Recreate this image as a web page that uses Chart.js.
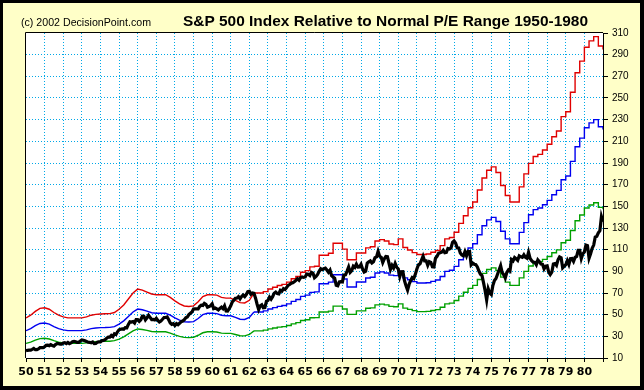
<!DOCTYPE html>
<html>
<head>
<meta charset="utf-8">
<script src="https://cdn.jsdelivr.net/npm/chart.js@4.4.1/dist/chart.umd.min.js"></script>
<style>
  html, body { margin: 0; padding: 0; background: #FFFFC8; }
  #wrap { position: relative; width: 644px; height: 390px; }
  canvas { display: block; }
</style>
</head>
<body>
<div id="wrap"><canvas id="c" width="644" height="390"></canvas></div>
<script>
// ---------- text ----------
const chartTitle = 'S&P 500 Index Relative to Normal P/E Range 1950-1980';
const creditText = '(c) 2002 DecisionPoint.com';

// ---------- tick labels ----------
const xTickLabels = ['50','51','52','53','54','55','56','57','58','59','60','61','62','63','64','65',
  '66','67','68','69','70','71','72','73','74','75','76','77','78','79','80',''];
const xTickYears = [1950,1951,1952,1953,1954,1955,1956,1957,1958,1959,1960,1961,1962,1963,1964,1965,
  1966,1967,1968,1969,1970,1971,1972,1973,1974,1975,1976,1977,1978,1979,1980,1981];
const yTickValues = [10,30,50,70,90,110,130,150,170,190,210,230,250,270,290,310];

// ---------- S&P 500 (month-end closes, first value = end of Dec 1949) ----------
const spxFirstYear = 1950;
const spx = [16.8,
 17.1,17.2,17.3,18.0,18.8,17.7,17.8,18.4,19.5,19.5,19.5,20.4,
 21.7,21.8,21.4,22.4,21.5,21.0,22.4,23.3,23.3,22.9,22.9,23.8,
 24.1,23.3,24.4,23.3,23.9,25.0,25.4,25.0,24.5,24.5,25.7,26.6,
 26.4,25.9,25.3,24.6,24.5,24.1,24.8,23.3,23.4,24.5,24.8,24.8,
 26.1,26.2,26.9,28.3,29.2,29.2,30.9,29.8,32.3,31.7,34.2,36.0,
 36.6,36.8,36.6,38.0,37.9,41.0,43.5,43.2,43.7,42.3,45.5,45.5,
 43.8,45.3,48.5,48.4,45.2,47.0,49.4,47.5,45.4,45.6,45.1,46.7,
 44.7,43.3,44.1,45.7,47.4,47.4,47.9,45.2,42.4,41.1,41.7,40.0,
 41.7,40.8,42.1,43.4,44.1,45.2,47.2,47.8,50.1,51.3,52.5,55.2,
 55.4,55.4,55.4,57.6,58.7,58.5,60.5,59.6,56.9,57.5,58.3,59.9,
 55.6,56.1,55.3,54.4,55.8,56.9,55.5,58.1,53.5,53.4,55.5,58.1,
 61.8,63.4,65.1,65.3,66.6,64.6,66.8,68.1,66.7,68.6,71.3,71.6,
 68.8,70.0,69.6,65.2,59.6,54.8,58.2,59.1,56.3,56.5,62.3,63.1,
 66.2,64.3,66.6,69.8,70.8,69.4,69.1,72.5,71.7,74.0,73.2,75.0,
 77.0,77.8,79.0,79.5,80.4,81.7,83.2,81.8,84.2,84.9,84.4,84.8,
 87.6,87.4,86.2,89.1,88.4,84.1,85.3,87.2,90.0,92.4,91.6,92.4,
 92.9,91.2,89.2,91.1,86.1,84.7,83.6,77.1,76.6,80.2,80.5,80.3,
 86.6,86.8,90.2,94.0,89.1,90.6,94.8,93.6,96.7,93.9,94.0,96.5,
 92.2,89.4,90.2,97.6,98.7,99.6,97.7,98.9,102.7,103.4,108.4,103.9,
 103.0,98.1,101.5,103.7,103.5,97.7,91.8,95.5,93.1,97.2,93.8,92.1,
 85.0,89.5,89.6,81.5,76.6,72.7,78.1,81.5,84.2,83.3,87.2,92.2,
 95.9,96.8,100.3,104.0,99.6,99.7,95.6,99.0,98.3,94.2,94.0,102.1,
 103.9,106.6,107.2,107.7,109.5,107.1,107.4,111.1,110.6,111.6,116.7,118.1,
 116.0,111.7,111.5,107.0,105.0,104.3,108.2,104.3,108.4,108.3,96.0,97.6,
 96.6,96.2,94.0,90.3,87.3,86.0,79.3,72.2,63.5,73.9,70.0,68.6,
 77.0,81.6,83.4,87.3,91.2,95.2,88.8,86.9,83.9,89.0,91.2,90.2,
 100.9,99.7,102.8,101.6,100.2,104.3,103.4,102.9,105.2,102.9,102.1,107.5,
 102.0,99.8,98.4,98.4,96.1,100.5,98.9,96.8,96.5,92.3,94.8,95.1,
 89.3,87.0,89.2,96.8,97.2,95.5,100.7,103.3,102.5,93.2,94.7,96.1,
 99.9,96.3,101.6,101.8,99.1,102.9,103.8,109.3,109.3,101.8,106.2,107.9,
 114.2,113.7,102.1,106.3,111.2,114.2,121.7,122.4,125.5,127.5,140.5,135.8];

// ---------- P/E bands, quarterly: 1950.00 - 1962.25 (smooth part) ----------
const earlyYears = [1950,1950.25,1950.5,1950.75,1951,1951.25,1951.5,1951.75,1952,1952.25,1952.5,1952.75,
  1953,1953.25,1953.5,1953.75,1954,1954.25,1954.5,1954.75,1955,1955.25,1955.5,1955.75,
  1956,1956.25,1956.5,1956.75,1957,1957.25,1957.5,1957.75,1958,1958.25,1958.5,1958.75,
  1959,1959.25,1959.5,1959.75,1960,1960.25,1960.5,1960.75,1961,1961.25,1961.5,1961.75,1962,1962.25];
const redEarly = [46.9,49.5,53,55.8, 56.4,55,52,49.5, 48,47,47,47, 47,48,49.5,50.3, 50.6,50.8,51,52,
  55,59,64.5,70, 73.6,72.7,70.9,69.1, 68.4,68.4,68.4,66, 62.7,60,58,57.6, 58.1,62,66.7,68.4,
  68.4,68,66,65.3, 65.3,63.3,61.1,60.8, 63.3,70];
const blueEarly = [35.2,37.1,39.8,41.9, 42.3,41.3,39,37.1, 36,35.3,35.3,35.3, 35.3,36,37.1,37.7, 38,38.1,38.3,39,
  41.3,44.3,48.4,52.5, 55.2,54.5,53.2,51.8, 51.3,51.3,51.3,49.5, 47,45,43.5,43.2, 43.6,46.5,50,51.3,
  51.3,51,49.5,49, 49,47.5,45.8,45.6, 47.5,52.5];
const greenEarly = [23.5,24.7,26.5,27.9, 28.2,27.5,26,24.7, 24,23.5,23.5,23.5, 23.5,24,24.7,25.1, 25.3,25.4,25.5,26,
  27.5,29.5,32.3,35, 36.8,36.3,35.5,34.5, 34.2,34.2,34.2,33, 31.3,30,29,28.8, 29.1,31,33.3,34.2,
  34.2,34,33,32.7, 32.7,31.7,30.5,30.4, 31.7,35];

// ---------- P/E bands, quarterly steps: 1962.25 - 1981.00 ----------
const lateYears = [1962.25,1962.5,1962.75,1963,1963.25,1963.5,1963.75,1964,1964.25,1964.5,1964.75,
  1965,1965.25,1965.5,1965.75,1966,1966.25,1966.5,1966.75,1967,1967.25,1967.5,1967.75,
  1968,1968.25,1968.5,1968.75,1969,1969.25,1969.5,1969.75,1970,1970.25,1970.5,1970.75,
  1971,1971.25,1971.5,1971.75,1972,1972.25,1972.5,1972.75,1973,1973.25,1973.5,1973.75,
  1974,1974.25,1974.5,1974.75,1975,1975.25,1975.5,1975.75,1976,1976.25,1976.5,1976.75,
  1977,1977.25,1977.5,1977.75,1978,1978.25,1978.5,1978.75,1979,1979.25,1979.5,1979.75,
  1980,1980.25,1980.5,1980.75,1981];
const redLate = [70,70,71.3, 73.7,75.3,76.9,78, 80,83.1,85.3,89.2, 90.7,94.1,94.7,104.8,
  104.8,106.7,115.9,115.9, 110.5,100.7,100.7,106.9, 106.9,111.7,112.7,118, 119.3,118,115.3,114.7,
  120,112,109.7,107.3, 105.6,105.6,106,107.6, 109.3,113.7,120,121.3, 126.1,134.3,141.3,148.7,
  154,165.1,176.1,183.3, 186.4,181.3,169.3,160, 154,154,168,180, 189.7,196,198,202,
  207.3,214.3,219.6,232.8, 237.3,255.3,273.3,284, 296.8,302.7,306.7,298, 294.7];
const blueLate = [52.5,52.5,53.5, 55.3,56.5,57.7,58.5, 60,62.3,64,66.9, 68,70.6,71,78.6,
  78.6,80,86.9,86.9, 82.9,75.5,75.5,80.2, 80.2,83.8,84.5,88.5, 89.5,88.5,86.5,86,
  90,84,82.3,80.5, 79.2,79.2,79.5,80.7, 82,85.3,90,91, 94.6,100.7,106,111.5,
  115.5,123.8,132.1,137.5, 139.8,136,127,120, 115.5,115.5,126,135, 142.3,147,148.5,151.5,
  155.5,160.7,164.7,174.6, 178,191.5,205,213, 222.6,227,230,223.5, 221];
const greenLate = [35,35,35.7, 36.9,37.7,38.5,39, 40,41.5,42.7,44.6, 45.3,47.1,47.3,52.4,
  52.4,53.3,57.9,57.9, 55.3,50.3,50.3,53.5, 53.5,55.9,56.3,59, 59.7,59,57.7,57.3,
  60,56,54.9,53.7, 52.8,52.8,53,53.8, 54.7,56.9,60,60.7, 63.1,67.1,70.7,74.3,
  77,82.5,88.1,91.7, 93.2,90.7,84.7,80, 77,77,84,90, 94.9,98,99,101,
  103.7,107.1,109.8,116.4, 118.7,127.7,136.7,142, 148.4,151.3,153.3,149, 147.3];

// ---------- styling ----------
const RED = '#E00000', BLUE = '#0000F0', GREEN = '#00A000', BLACK = '#000000';
const GRID = '#00A8E8';
const PAGE_BG = '#FFFFC8';

const pts = (xs, ys) => ys.map((v, i) => ({ x: xs[i], y: v }));
const spxPoints = spx.map((v, i) => ({ x: spxFirstYear + i / 12, y: v }));

function band(label, xs, ys, color, stepped) {
  return { label, data: pts(xs, ys), borderColor: color, backgroundColor: color,
    borderWidth: 1.4, pointRadius: 0, tension: 0, stepped: stepped, fill: false };
}

function fitText(ctx, text, font, x, y, width) {
  ctx.save();
  ctx.font = font;
  ctx.fillStyle = '#000';
  ctx.textBaseline = 'alphabetic';
  const w = ctx.measureText(text).width;
  ctx.translate(x, y);
  ctx.scale(width / w, 1);
  ctx.fillText(text, 0, 0);
  ctx.restore();
}

const framePlugin = {
  id: 'frame',
  beforeDraw(chart) {
    const { ctx, chartArea: a, width, height } = chart;
    ctx.save();
    ctx.fillStyle = PAGE_BG;
    ctx.fillRect(0, 0, width, height);
    ctx.fillStyle = '#000';
    ctx.fillRect(0, 0, width, 3);
    ctx.fillRect(0, 0, 3, height);
    ctx.fillRect(width - 4, 0, 4, height);
    ctx.fillRect(0, height - 4, width, 4);
    ctx.fillStyle = '#FFFFFF';
    ctx.fillRect(a.left, a.top, a.right - a.left, a.bottom - a.top);
    ctx.restore();
  },
  beforeDatasetsDraw(chart) {
    const { ctx, chartArea: a } = chart;
    ctx.save();
    ctx.strokeStyle = '#000';
    ctx.lineWidth = 1;
    ctx.beginPath();
    ctx.moveTo(a.left - 0.5, a.bottom);
    ctx.lineTo(a.left - 0.5, a.top - 0.5);
    ctx.lineTo(a.right, a.top - 0.5);
    ctx.stroke();
    ctx.restore();
  },
  afterDraw(chart) {
    const { ctx } = chart;
    fitText(ctx, chartTitle, 'bold 15px "Liberation Sans", Arial, sans-serif', 183, 26, 405);
    fitText(ctx, creditText, '11px "Liberation Sans", Arial, sans-serif', 21, 26, 130);
  }
};

new Chart(document.getElementById('c'), {
  type: 'line',
  data: {
    datasets: [
      { label: 'S&P 500', data: spxPoints, borderColor: BLACK, backgroundColor: BLACK,
        borderWidth: 3.2, pointRadius: 0, tension: 0, fill: false },
      band('High P/E', earlyYears, redEarly, RED, false),
      band('High P/E', lateYears, redLate, RED, true),
      band('Normal P/E', earlyYears, blueEarly, BLUE, false),
      band('Normal P/E', lateYears, blueLate, BLUE, true),
      band('Low P/E', earlyYears, greenEarly, GREEN, false),
      band('Low P/E', lateYears, greenLate, GREEN, true)
    ]
  },
  options: {
    responsive: false,
    animation: false,
    devicePixelRatio: 1,
    layout: { padding: { left: 26, top: 33, right: 0, bottom: 0 } },
    plugins: { legend: { display: false }, tooltip: { enabled: false }, title: { display: false } },
    scales: {
      x: {
        type: 'linear', min: 1950, max: 1981,
        afterBuildTicks: (s) => { s.ticks = xTickYears.map(v => ({ value: v })); },
        afterFit: (s) => { s.height = 32; },
        ticks: {
          autoSkip: false, maxRotation: 0, minRotation: 0, padding: 4, color: '#000',
          font: { family: '"DejaVu Sans", sans-serif', size: 11, weight: 'bold' },
          callback: (v) => { const i = xTickYears.indexOf(Math.round(v)); return i >= 0 ? xTickLabels[i] : ''; }
        },
        grid: {
          color: (c) => (c.tick && (c.tick.value === 1950 || c.tick.value === 1981)) ? 'rgba(0,0,0,0)' : GRID,
          lineWidth: 1, tickColor: '#000', tickLength: 4, tickWidth: 1
        },
        border: { display: true, color: '#000', width: 1, dash: [1, 2] }
      },
      y: {
        type: 'linear', position: 'right', min: 10, max: 310,
        afterBuildTicks: (s) => { s.ticks = yTickValues.map(v => ({ value: v })); },
        afterFit: (s) => { s.width = 41; },
        ticks: {
          padding: 4, color: '#000',
          font: { family: '"Liberation Sans", Arial, sans-serif', size: 10 },
          callback: (v) => String(v)
        },
        grid: {
          color: (c) => (c.tick && (c.tick.value === 10 || c.tick.value === 310)) ? 'rgba(0,0,0,0)' : GRID,
          lineWidth: 1, tickColor: '#000', tickLength: 5, tickWidth: 1
        },
        border: { display: true, color: '#000', width: 1, dash: [1, 2] }
      }
    }
  },
  plugins: [framePlugin]
});
</script>
</body>
</html>
